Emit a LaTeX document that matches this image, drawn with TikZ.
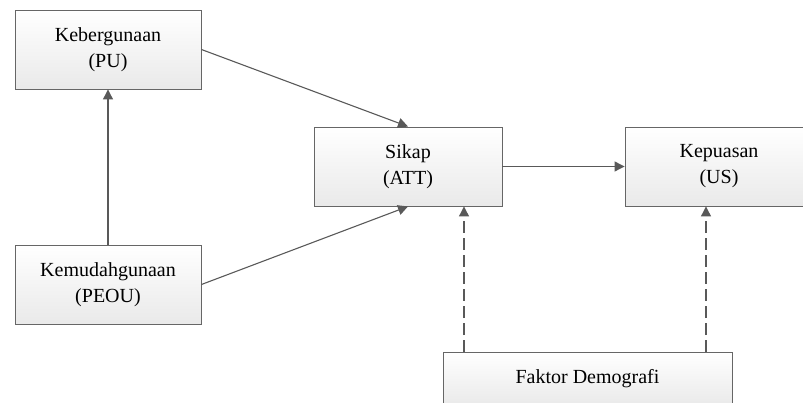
\documentclass[tikz,border=0pt]{standalone}
\usepackage{fontspec}
\setmainfont{Liberation Serif}
\usetikzlibrary{arrows.meta,calc}
\begin{document}
\begin{tikzpicture}[x=1pt,y=-1pt,
  box/.style={draw=gray!80!black, line width=0.9pt, top color=white, bottom color=gray!17,
    minimum width=186pt, minimum height=79pt, inner sep=0pt, align=center,
    font=\fontsize{20}{26}\selectfont},
  lbl/.style={align=center, inner sep=0pt, font=\fontsize{20}{26}\selectfont},
  conn/.style={draw=black!65, line width=1.1pt, -{Triangle[length=10pt,width=10pt]}},
  dconn/.style={conn, dash pattern=on 12pt off 5pt}]
\useasboundingbox (0,0) rectangle (803,403);
\node[box] (pu) at (108,49.5) {Kebergunaan\\(PU)};
\node[box] (peou) at (108,284.5) {Kemudahgunaan\\(PEOU)};
\node[box, minimum width=188pt] (att) at (408,166.5) {Sikap\\(ATT)};
\node[box, minimum width=178pt] (us) at (714,166.5) {};
\node[lbl] (ustext) at (719,166.5) {Kepuasan\\(US)};
\node[box, minimum width=289pt, minimum height=54pt] (fd) at (587.5,379) {Faktor Demografi};
\coordinate (d1) at (464,352);
\coordinate (d2) at (706,352);
\draw[conn] (pu.east) -- (att.north);
\draw[conn] (peou.east) -- (att.south);
\draw[conn] (peou.north) -- (pu.south);
\draw[conn] (att.east) -- (us.west);
\draw[dconn] (d1) -- (d1 |- att.south);
\draw[dconn] (d2) -- (d2 |- us.south);
\end{tikzpicture}
\end{document}
